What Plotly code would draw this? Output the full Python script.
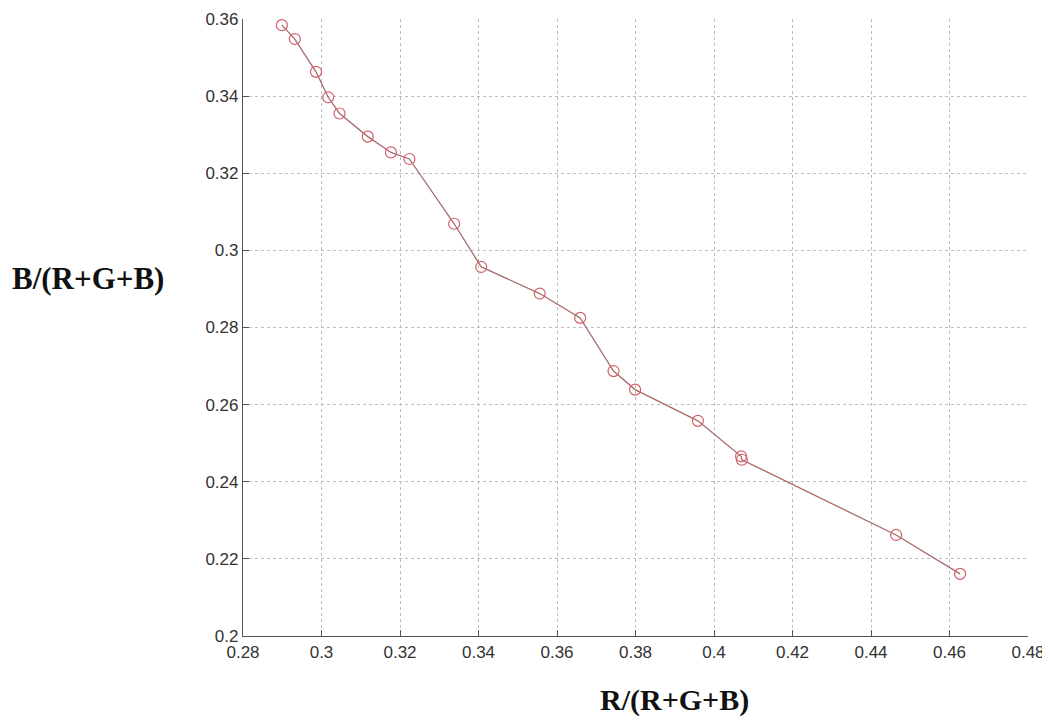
import plotly.graph_objects as go

r_frac = [0.2899, 0.2932, 0.2986, 0.3017, 0.3046, 0.3118, 0.3177, 0.3224,
          0.3338, 0.3407, 0.3556, 0.3659, 0.3744, 0.3799, 0.3959, 0.4069,
          0.4071, 0.4464, 0.4627]
b_frac = [0.3584, 0.3548, 0.3463, 0.3397, 0.3355, 0.3295, 0.3254, 0.3237,
          0.3069, 0.2957, 0.2888, 0.2825, 0.2687, 0.2639, 0.2558, 0.2466,
          0.2457, 0.2262, 0.2161]

x_ticks = [0.28, 0.30, 0.32, 0.34, 0.36, 0.38, 0.40, 0.42, 0.44, 0.46, 0.48]
x_tick_labels = ["0.28", "0.3", "0.32", "0.34", "0.36", "0.38", "0.4", "0.42", "0.44", "0.46", "0.48"]
y_ticks = [0.20, 0.22, 0.24, 0.26, 0.28, 0.30, 0.32, 0.34, 0.36]
y_tick_labels = ["0.2", "0.22", "0.24", "0.26", "0.28", "0.3", "0.32", "0.34", "0.36"]

fig = go.Figure()
fig.add_trace(go.Scatter(
    x=r_frac, y=b_frac, mode="lines+markers",
    line=dict(color="#a86a6a", width=1.3),
    marker=dict(symbol="circle-open", size=11, color="#d4606a", line=dict(width=1.2)),
    showlegend=False,
))

axis_common = dict(
    showgrid=True, gridcolor="#bdbdbd", griddash="dot", gridwidth=1,
    zeroline=False, ticks="inside", ticklen=6, tickcolor="#555",
    showline=True, linecolor="#555", linewidth=1.2, automargin=False,
    tickfont=dict(family="Liberation Sans, Arial", size=17, color="#333"),
)

fig.update_layout(
    width=1042, height=714,
    paper_bgcolor="white", plot_bgcolor="white",
    margin=dict(l=235, r=22, t=11, b=86),
    xaxis=dict(range=[0.28, 0.48], tickvals=x_ticks, ticktext=x_tick_labels, **axis_common),
    yaxis=dict(range=[0.20, 0.36], tickvals=y_ticks, ticktext=y_tick_labels, **axis_common),
    annotations=[
        dict(text="<b>B/(R+G+B)</b>", xref="paper", yref="paper", x=-0.297, y=0.580,
             xanchor="left", yanchor="middle", showarrow=False,
             font=dict(family="Liberation Serif, Times New Roman", size=31, color="#111")),
        dict(text="<b>R/(R+G+B)</b>", xref="paper", yref="paper", x=0.550, y=-0.104,
             xanchor="center", yanchor="middle", showarrow=False,
             font=dict(family="Liberation Serif, Times New Roman", size=30, color="#111")),
    ],
)

fig.write_html("out.html")
